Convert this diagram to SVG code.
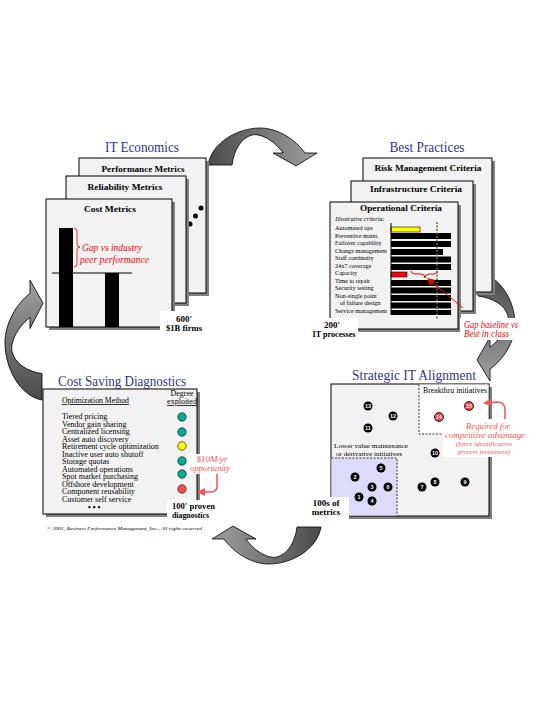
<svg xmlns="http://www.w3.org/2000/svg" width="540" height="720" viewBox="0 0 540 720">
<style>
.bg{fill:#ffffff}
.card{fill:#f2f2f2;stroke:#000;stroke-width:1}
.shadow{fill:#808080}
.lbl{fill:#fff}
.title{font-family:"Liberation Serif",serif;font-size:15px;fill:#333399;text-anchor:middle}
.ct{font-family:"Liberation Serif",serif;font-size:9px;font-weight:bold;fill:#000;text-anchor:middle}
.sm{font-family:"Liberation Serif",serif;font-size:6.2px;fill:#000}
.li{font-family:"Liberation Serif",serif;font-size:8px;fill:#000}
.bold{font-family:"Liberation Serif",serif;font-size:9px;font-weight:bold;fill:#000}
.red{font-family:"Liberation Serif",serif;font-style:italic;fill:#ff0000}
.pink{font-family:"Liberation Serif",serif;font-style:italic;fill:#ff5050}
.num{font-family:"Liberation Sans",sans-serif;font-size:5.5px;font-weight:bold;fill:#fff;text-anchor:middle}
.dot{fill:#000}
.arrow{fill:url(#ag);stroke:#000;stroke-width:0.8}
.bar{fill:#000}
</style>
<defs>
<linearGradient id="ag" x1="0" y1="0" x2="1" y2="0">
<stop offset="0" stop-color="#4a4a4a"/>
<stop offset="1" stop-color="#a0a0a0"/>
</linearGradient>
<path id="carrow" d="M0,37 C4,14 30,0 52,0 C70,0 88,12 97,25 L109,25 L88,38 L65,25 L75,25 C66,12 52,5 44,7 C33,10 26,22 24,37 Z"/>
<marker id="rh" markerWidth="8" markerHeight="8" refX="6" refY="4" orient="auto" markerUnits="userSpaceOnUse">
<path d="M0,0 L7,4 L0,8 Z" fill="#ff0000"/>
</marker>
<marker id="ph" markerWidth="9" markerHeight="8" refX="7" refY="4" orient="auto" markerUnits="userSpaceOnUse">
<path d="M0,0 L8,4 L0,8 Z" fill="#ff5050"/>
</marker>
</defs>
<rect class="bg" x="0" y="0" width="540" height="720"/>

<g id="connectors">
<use href="#carrow" class="arrow" transform="translate(208,128)"/>
<use href="#carrow" class="arrow" transform="translate(515,272) rotate(90)"/>
<use href="#carrow" class="arrow" transform="translate(321,564) rotate(180)"/>
<use href="#carrow" class="arrow" transform="translate(5,400) scale(1,1.1) rotate(-90)"/>
</g>

<g id="it-economics">
<text class="title" x="142" y="152" textLength="74" lengthAdjust="spacingAndGlyphs">IT Economics</text>
<rect class="shadow" x="82" y="161" width="127" height="135"/>
<rect class="card" x="79" y="158" width="127" height="135"/>
<text class="ct" x="143" y="172" textLength="83" lengthAdjust="spacingAndGlyphs">Performance Metrics</text>
<circle class="dot" cx="201" cy="208" r="2.5"/>
<circle class="dot" cx="195.5" cy="216" r="2.5"/>
<circle class="dot" cx="190" cy="224" r="2.5"/>
<rect class="shadow" x="69" y="179" width="120" height="127"/>
<rect class="card" x="66" y="176" width="120" height="127"/>
<text class="ct" x="125" y="190" textLength="75" lengthAdjust="spacingAndGlyphs">Reliability Metrics</text>
<rect class="shadow" x="49" y="202" width="126" height="128"/>
<rect class="card" x="46" y="199" width="126" height="128"/>
<text class="ct" x="110" y="212" textLength="52" lengthAdjust="spacingAndGlyphs">Cost Metrics</text>
<rect class="bar" x="59" y="228" width="14" height="99"/>
<rect class="bar" x="105" y="273" width="14" height="54"/>
<line x1="52" y1="273" x2="132" y2="273" stroke="#000" stroke-width="1"/>
<path d="M74,228 Q77,228 77,232 L77,244 Q77,247 80,247 Q77,247 77,250 L77,263 Q77,267 74,267" fill="none" stroke="#ff0000" stroke-width="0.8"/>
<text class="red" x="82" y="251" font-size="9.5" textLength="60" lengthAdjust="spacingAndGlyphs">Gap vs industry</text>
<text class="red" x="80" y="263" font-size="9.5" textLength="69" lengthAdjust="spacingAndGlyphs">peer performance</text>
<rect class="lbl" x="160" y="311" width="44" height="24"/>
<text class="bold" x="184" y="322" text-anchor="middle">600'</text>
<text class="bold" x="184" y="331" text-anchor="middle" textLength="36" lengthAdjust="spacingAndGlyphs">$1B firms</text>
</g>

<g id="best-practices">
<text class="title" x="427" y="152" textLength="75" lengthAdjust="spacingAndGlyphs">Best Practices</text>
<rect class="shadow" x="366" y="161" width="129" height="134"/>
<rect class="card" x="363" y="158" width="129" height="134"/>
<text class="ct" x="428" y="171" textLength="107" lengthAdjust="spacingAndGlyphs">Risk Management Criteria</text>
<rect class="shadow" x="354" y="184" width="122" height="130"/>
<rect class="card" x="351" y="181" width="122" height="130"/>
<text class="ct" x="416" y="192" textLength="92" lengthAdjust="spacingAndGlyphs">Infrastructure Criteria</text>
<rect class="shadow" x="333" y="205" width="128" height="127"/>
<rect class="card" x="330" y="202" width="128" height="127"/>
<text class="ct" x="401" y="211" font-size="10" textLength="82" lengthAdjust="spacingAndGlyphs">Operational Criteria</text>
<text class="sm" x="360" y="221" text-anchor="middle" font-style="italic" font-size="5.5">Illustrative criteria:</text>
<text class="sm" x="335" y="230">Automated ops</text>
<text class="sm" x="335" y="237.5">Preventive maint.</text>
<text class="sm" x="335" y="245">Failover capability</text>
<text class="sm" x="335" y="252.5" textLength="52" lengthAdjust="spacingAndGlyphs">Change management</text>
<text class="sm" x="335" y="260">Staff continuity</text>
<text class="sm" x="335" y="267.5">24x7 coverage</text>
<text class="sm" x="335" y="275">Capacity</text>
<text class="sm" x="335" y="282.5">Time to repair</text>
<text class="sm" x="335" y="290">Security testing</text>
<text class="sm" x="335" y="297.5">Non-single point</text>
<text class="sm" x="340" y="305">of failure design</text>
<text class="sm" x="335" y="312.5" textLength="52" lengthAdjust="spacingAndGlyphs">Service management</text>
<rect x="391" y="227" width="29" height="5" fill="#ffff00" stroke="#000" stroke-width="0.6"/>
<rect class="bar" x="391" y="233" width="60" height="6"/>
<rect class="bar" x="391" y="241" width="60" height="6"/>
<rect class="bar" x="391" y="249" width="52" height="6"/>
<rect class="bar" x="391" y="256.5" width="60" height="6"/>
<rect class="bar" x="391" y="264" width="60" height="6"/>
<rect x="391" y="272" width="16" height="5" fill="#ff0000" stroke="#000" stroke-width="0.6"/>
<rect class="bar" x="391" y="280" width="60" height="6"/>
<rect class="bar" x="391" y="287.5" width="60" height="6"/>
<rect class="bar" x="391" y="295" width="60" height="6"/>
<rect class="bar" x="391" y="302.5" width="60" height="6"/>
<rect class="bar" x="391" y="310" width="60" height="5"/>
<line x1="391" y1="223" x2="391" y2="315" stroke="#000" stroke-width="1"/>
<line x1="437" y1="222" x2="437" y2="320" stroke="#6b6b2e" stroke-width="1.5" stroke-dasharray="2,1.5"/>
<path d="M411,271 Q411,274 415,274 L421,274 Q425,274 425,278 Q425,274 429,274 L434,274 Q437,274 437,271" fill="none" stroke="#ff0000" stroke-width="1"/>
<line x1="463" y1="308" x2="428" y2="279" stroke="#ff0000" stroke-width="1" marker-end="url(#rh)"/>
<rect class="lbl" x="310" y="318" width="48" height="22"/>
<text class="bold" x="332" y="328" text-anchor="middle">200'</text>
<text class="bold" x="334" y="337" text-anchor="middle" textLength="43" lengthAdjust="spacingAndGlyphs">IT processes</text>
<rect class="lbl" x="460" y="318" width="62" height="22"/>
<text class="red" x="464" y="328" font-size="9.5" textLength="54" lengthAdjust="spacingAndGlyphs">Gap baseline vs</text>
<text class="red" x="464" y="337" font-size="9.5" textLength="45" lengthAdjust="spacingAndGlyphs">Best in class</text>
</g>

<g id="cost-saving-diagnostics">
<text class="title" x="122" y="386" textLength="128" lengthAdjust="spacingAndGlyphs">Cost Saving Diagnostics</text>
<rect class="shadow" x="46" y="392" width="154" height="125"/>
<rect class="card" x="43" y="389" width="154" height="125"/>
<text class="li" x="62" y="403" text-decoration="underline" textLength="67" lengthAdjust="spacingAndGlyphs">Optimization Method</text>
<text class="li" x="182" y="396" text-anchor="middle">Degree</text>
<text class="li" x="182" y="404" text-anchor="middle" text-decoration="underline">exploited</text>
<text class="li" x="62" y="419">Tiered pricing</text>
<text class="li" x="62" y="426.5">Vendor gain sharing</text>
<text class="li" x="62" y="434">Centralized licensing</text>
<text class="li" x="62" y="441.5">Asset auto discovery</text>
<text class="li" x="62" y="449">Retirement cycle optimization</text>
<text class="li" x="62" y="456.5">Inactive user auto shutoff</text>
<text class="li" x="62" y="464">Storage quotas</text>
<text class="li" x="62" y="471.5">Automated operations</text>
<text class="li" x="62" y="479">Spot market purchasing</text>
<text class="li" x="62" y="486.5">Offshore development</text>
<text class="li" x="62" y="494">Component reusability</text>
<text class="li" x="62" y="501.5">Customer self service</text>
<text class="li" x="88" y="510" font-weight="bold">• • •</text>
<circle cx="182" cy="417" r="4.2" fill="#00b090" stroke="#000" stroke-width="0.6"/>
<circle cx="182" cy="432" r="4.2" fill="#00b090" stroke="#000" stroke-width="0.6"/>
<circle cx="182" cy="446" r="4.2" fill="#ffff00" stroke="#000" stroke-width="0.6"/>
<circle cx="182" cy="461" r="4.2" fill="#00b090" stroke="#000" stroke-width="0.6"/>
<circle cx="182" cy="474" r="4.2" fill="#00b090" stroke="#000" stroke-width="0.6"/>
<circle cx="182" cy="489" r="4.2" fill="#ff5050" stroke="#000" stroke-width="0.6"/>
<rect class="lbl" x="187" y="454" width="44" height="20"/>
<text class="pink" x="212" y="462" font-size="9" text-anchor="middle">$10M/yr</text>
<text class="pink" x="210" y="471" font-size="9" text-anchor="middle" textLength="40" lengthAdjust="spacingAndGlyphs">opportunity</text>
<path d="M217,474 L217,486 Q217,492 211,492 L198,492" fill="none" stroke="#ff5050" stroke-width="1.5" marker-end="url(#ph)"/>
<rect class="lbl" x="167" y="500" width="50" height="20"/>
<text class="bold" x="172" y="509" font-size="9.5" textLength="43" lengthAdjust="spacingAndGlyphs">100' proven</text>
<text class="bold" x="172" y="517.5" font-size="9.5" textLength="37" lengthAdjust="spacingAndGlyphs">diagnostics</text>
<text x="47" y="530" font-family="Liberation Serif, serif" font-style="italic" font-size="4.5" textLength="155" lengthAdjust="spacingAndGlyphs">© 2001, Business Performance Management, Inc.; All rights reserved</text>
</g>

<g id="strategic-it-alignment">
<text class="title" x="414" y="380" textLength="124" lengthAdjust="spacingAndGlyphs">Strategic IT Alignment</text>
<rect class="shadow" x="334" y="387" width="158" height="132"/>
<rect class="card" x="331" y="384" width="158" height="132"/>
<rect x="419" y="384.5" width="69.5" height="49.5" fill="#ffffff"/>
<rect x="331.5" y="458" width="65.5" height="57.5" fill="#dcdcfa"/>
<path d="M419,384.5 L419,434 L489,434" fill="none" stroke="#000" stroke-width="0.8" stroke-dasharray="2,1.5"/>
<path d="M331.5,458 L397,458 L397,515.5" fill="none" stroke="#000" stroke-width="0.8" stroke-dasharray="2,1.5"/>
<text x="423" y="393" font-family="Liberation Serif, serif" font-size="7.5" textLength="64" lengthAdjust="spacingAndGlyphs">Breakthru initiatives</text>
<text x="334" y="448" font-family="Liberation Serif, serif" font-size="7" textLength="74" lengthAdjust="spacingAndGlyphs">Lower value maintenance</text>
<text x="336" y="455.5" font-family="Liberation Serif, serif" font-size="7" textLength="66" lengthAdjust="spacingAndGlyphs">or derivative initiatives</text>
<g id="n1"><circle cx="359" cy="497" r="4.5" fill="#000"/><text class="num" x="359" y="499">1</text></g>
<g id="n2"><circle cx="355" cy="477" r="4.5" fill="#000"/><text class="num" x="355" y="479">2</text></g>
<g id="n3"><circle cx="372" cy="487" r="4.5" fill="#000"/><text class="num" x="372" y="489">3</text></g>
<g id="n4"><circle cx="372" cy="501" r="4.5" fill="#000"/><text class="num" x="372" y="503">4</text></g>
<g id="n5"><circle cx="381" cy="468" r="4.5" fill="#000"/><text class="num" x="381" y="470">5</text></g>
<g id="n6"><circle cx="388" cy="487" r="4.5" fill="#000"/><text class="num" x="388" y="489">6</text></g>
<g id="n7"><circle cx="422" cy="487" r="4.5" fill="#000"/><text class="num" x="422" y="489">7</text></g>
<g id="n8"><circle cx="435" cy="482" r="4.5" fill="#000"/><text class="num" x="435" y="484">8</text></g>
<g id="n9"><circle cx="465" cy="482" r="4.5" fill="#000"/><text class="num" x="465" y="484">9</text></g>
<g id="n10"><circle cx="435" cy="453" r="4.5" fill="#000"/><text class="num" x="435" y="455" font-size="5">10</text></g>
<g id="n11"><circle cx="368" cy="428" r="4.5" fill="#000"/><text class="num" x="368" y="430" font-size="5">11</text></g>
<g id="n12"><circle cx="393" cy="416" r="4.5" fill="#000"/><text class="num" x="393" y="418" font-size="5">12</text></g>
<g id="n13"><circle cx="368" cy="406" r="4.5" fill="#000"/><text class="num" x="368" y="408" font-size="5">13</text></g>
<g id="n14"><circle cx="439" cy="417" r="4.5" fill="#ff4040" stroke="#000" stroke-width="0.8"/><text class="num" x="439" y="419" font-size="5">14</text></g>
<g id="n15"><circle cx="469" cy="406" r="4.5" fill="#ff4040" stroke="#000" stroke-width="0.8"/><text class="num" x="469" y="408" font-size="5">15</text></g>
<rect class="lbl" x="443" y="419" width="85" height="38"/>
<path d="M505,419 L505,410 Q505,402 497,402 L484,403" fill="none" stroke="#ff5050" stroke-width="1.5" marker-end="url(#ph)"/>
<text class="pink" x="488" y="428.5" font-size="8" text-anchor="middle" textLength="44" lengthAdjust="spacingAndGlyphs">Required for</text>
<text class="pink" x="485" y="437.5" font-size="8" text-anchor="middle" textLength="80" lengthAdjust="spacingAndGlyphs">competitive advantage</text>
<text class="pink" x="484" y="446" font-size="6" text-anchor="middle" textLength="56" lengthAdjust="spacingAndGlyphs">(force identification</text>
<text class="pink" x="484" y="453.5" font-size="6" text-anchor="middle" textLength="52" lengthAdjust="spacingAndGlyphs">process investment)</text>
<rect class="lbl" x="303" y="497" width="46" height="22"/>
<text class="bold" x="326" y="506" text-anchor="middle" font-size="9.5">100s of</text>
<text class="bold" x="326" y="515" text-anchor="middle" font-size="9.5">metrics</text>
</g>
</svg>
